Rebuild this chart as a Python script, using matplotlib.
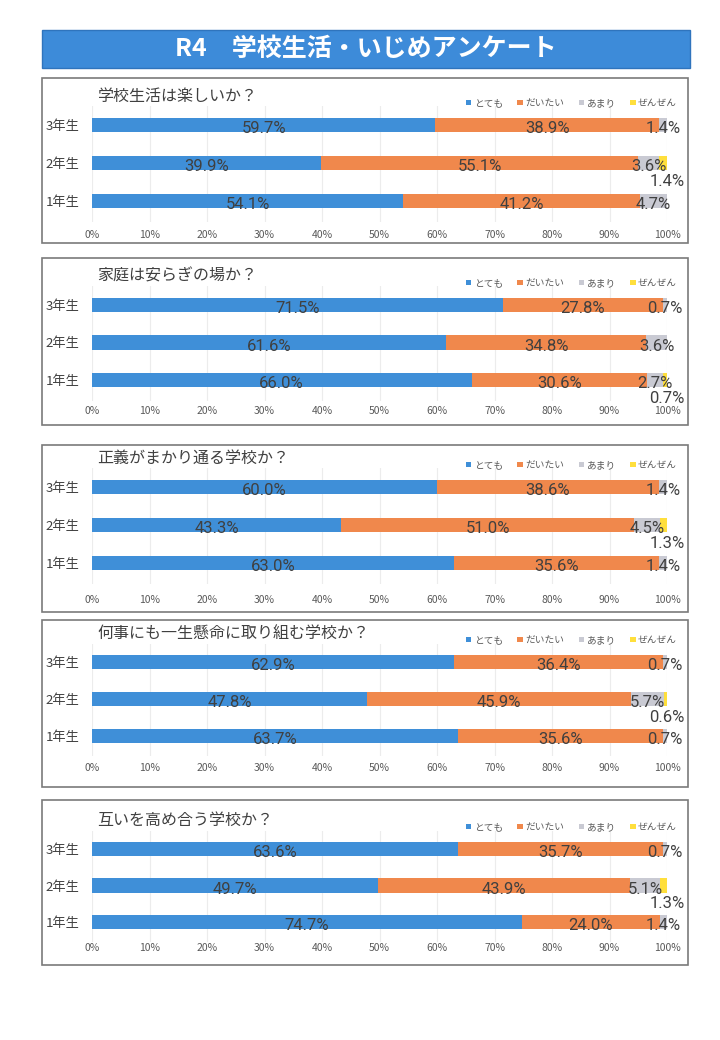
import matplotlib
matplotlib.use("Agg")
import matplotlib.pyplot as plt
from matplotlib.patches import Rectangle

plt.rcParams['font.family'] = ['Noto Sans CJK JP', 'DejaVu Sans']

# data (rows: とても, だいたい, あまり, ぜんぜん / cols: 1年生, 2年生, 3年生)
grades = ['1年生', '2年生', '3年生']
answers = ['とても', 'だいたい', 'あまり', 'ぜんぜん']
questions = ['学校生活は楽しいか？', '家庭は安らぎの場か？', '正義がまかり通る学校か？',
             '何事にも一生懸命に取り組む学校か？', '互いを高め合う学校か？']

q1_values = [[54.1, 39.9, 59.7], [41.2, 55.1, 38.9], [4.7, 3.6, 1.4], [0, 1.4, 0]]
q2_values = [[66.0, 61.6, 71.5], [30.6, 34.8, 27.8], [2.7, 3.6, 0.7], [0.7, 0, 0]]
q3_values = [[63.0, 43.3, 60.0], [35.6, 51.0, 38.6], [1.4, 4.5, 1.4], [0, 1.3, 0]]
q4_values = [[63.7, 47.8, 62.9], [35.6, 45.9, 36.4], [0.7, 5.7, 0.7], [0, 0.6, 0]]
q5_values = [[74.7, 49.7, 63.6], [24.0, 43.9, 35.7], [1.4, 5.1, 0.7], [0, 1.3, 0]]
all_values = [q1_values, q2_values, q3_values, q4_values, q5_values]

colors = ['#3f8fd8', '#f0884c', '#c9cad3', '#ffdf3c']
txt_gray = '#404040'
num_font = ['Liberation Sans Narrow', 'Roboto', 'DejaVu Sans']

W, H = 720, 1040
fig = plt.figure(figsize=(W / 100, H / 100), dpi=100)
fig.patch.set_facecolor('white')


def fx(x):
    return x / W


def fy(y):
    return 1 - y / H


# title banner
fig.patches.append(Rectangle((fx(42), fy(68)), fx(690) - fx(42), fy(30) - fy(68),
                             transform=fig.transFigure, facecolor='#3d8bd9',
                             edgecolor='#2f74bd', lw=1))
fig.text(fx(366), fy(49), 'R4\u3000学校生活・いじめアンケート', color='white',
         fontsize=18, fontweight='bold', ha='center', va='center')

# layout in pixels
panel_tops = [78, 258, 445, 620, 800]
panel_bottoms = [243, 425, 612, 787, 965]
row3_y = [125, 305, 487, 662, 849]      # centre of the 3年生 bar
row_gap = [38, 37.5, 38, 37, 36.5]
tick_gap = [35, 32, 38, 33, 26]          # 1年生 bar -> tick labels
x0, x1 = 92, 667

for k in range(5):
    top = panel_tops[k]
    vals = all_values[k]
    sp = row_gap[k]

    # panel frame
    fig.patches.append(Rectangle((fx(42), fy(panel_bottoms[k])), fx(688) - fx(42),
                                 fy(top) - fy(panel_bottoms[k]), transform=fig.transFigure,
                                 fill=False, edgecolor='#7a7a7a', lw=1.2))

    ax_top = row3_y[k] - 0.5 * sp
    ax_bot = row3_y[k] + 2.55 * sp
    ax = fig.add_axes([fx(x0), fy(ax_bot), fx(x1) - fx(x0), (ax_bot - ax_top) / H])
    ypos = list(range(len(grades)))
    left = [0.0] * len(grades)
    handles = []
    for i, ans in enumerate(answers):
        bars = ax.barh(ypos, vals[i], left=left, height=0.39, color=colors[i],
                       label=ans, zorder=2)
        handles.append(bars)
        for j, v in enumerate(vals[i]):
            if v > 0:
                cx = left[j] + v / 2
                cy = ypos[j] - 0.1
                if i == 3:
                    cx = left[j] + v
                    cy = ypos[j] - 0.5
                ax.text(cx, cy, f'{v:.1f}%', ha='center', va='center',
                        fontsize=12, color=txt_gray, family=num_font,
                        fontstretch='condensed', zorder=3)
        left = [left[j] + vals[i][j] for j in range(len(grades))]

    ax.set_xlim(0, 100)
    ax.set_ylim(-0.55, 2.5)
    ax.set_xticks(range(0, 101, 10))
    ax.set_xticklabels([f'{t}%' for t in range(0, 101, 10)], fontsize=7.5, color='#595959')
    ax.set_yticks(ypos)
    ax.set_yticklabels(grades, fontsize=9.5, color=txt_gray)
    ax.tick_params(axis='both', length=0)
    ax.tick_params(axis='x', pad=max(1, (tick_gap[k] - 0.55 * sp - 6) * 0.72))
    ax.tick_params(axis='y', pad=9)
    ax.grid(axis='x', color='#ececec', lw=0.8, zorder=0)
    ax.set_axisbelow(True)
    for s in ax.spines.values():
        s.set_visible(False)

    fig.text(fx(97), fy(row3_y[k] - 29), questions[k], fontsize=11.5, color=txt_gray,
             ha='left', va='center')

    ax.legend(handles=handles, labels=answers, ncol=4, loc='center right',
              bbox_to_anchor=(fx(682), fy(row3_y[k] - 22)), bbox_transform=fig.transFigure,
              frameon=False, fontsize=7, labelcolor='#595959',
              handlelength=0.55, handleheight=0.55, handletextpad=0.25,
              columnspacing=1.5, borderpad=0)

fig.savefig('out.png', dpi=100, facecolor='white')
